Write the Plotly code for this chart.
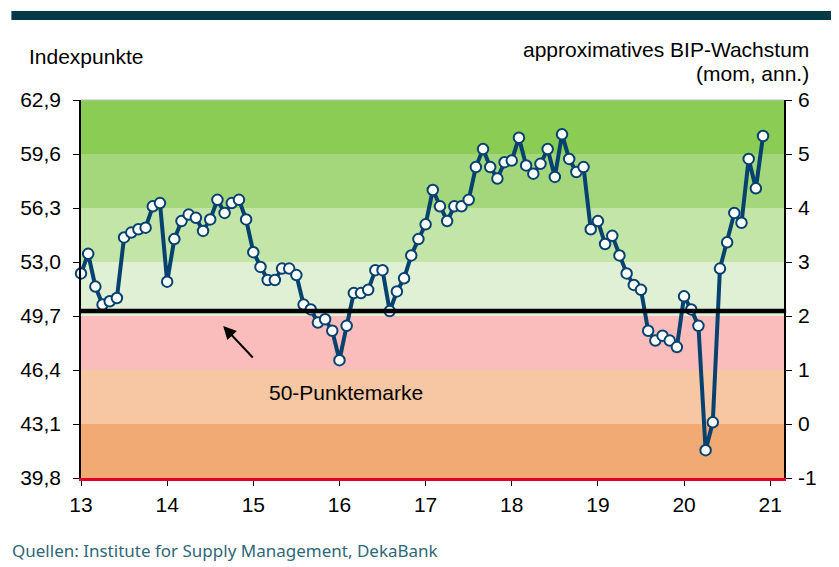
import plotly.graph_objects as go

# ISM values, monthly Jan 2013 .. Dec 2020
ism_2013 = [52.3, 53.5, 51.5, 50.4, 50.6, 50.8, 54.5, 54.8, 55.0, 55.1, 56.4, 56.6]
ism_2014 = [51.8, 54.4, 55.5, 55.9, 55.7, 54.9, 55.6, 56.8, 56.0, 56.6, 56.8, 55.6]
ism_2015 = [53.6, 52.7, 51.9, 51.9, 52.6, 52.6, 52.2, 50.4, 50.1, 49.3, 49.5, 48.8]
ism_2016 = [47.0, 49.1, 51.1, 51.1, 51.3, 52.5, 52.5, 50.0, 51.2, 52.0, 53.4, 54.4]
ism_2017 = [55.3, 57.4, 56.4, 55.5, 56.4, 56.4, 56.8, 58.8, 59.9, 58.8, 58.1, 59.1]
ism_2018 = [59.2, 60.6, 58.9, 58.4, 59.0, 59.9, 58.2, 60.8, 59.3, 58.5, 58.8, 55.0]
ism_2019 = [55.5, 54.1, 54.6, 53.4, 52.3, 51.6, 51.3, 48.8, 48.2, 48.5, 48.2, 47.8]
ism_2020 = [50.9, 50.1, 49.1, 41.5, 43.2, 52.6, 54.2, 56.0, 55.4, 59.3, 57.5, 60.7]
ism = ism_2013 + ism_2014 + ism_2015 + ism_2016 + ism_2017 + ism_2018 + ism_2019 + ism_2020
start_year = 13
x_vals = [start_year + i / 12 for i in range(len(ism))]

left_ticks = [39.8, 43.1, 46.4, 49.7, 53.0, 56.3, 59.6, 62.9]
left_labels = ["39,8", "43,1", "46,4", "49,7", "53,0", "56,3", "59,6", "62,9"]
right_ticks = [-1, 0, 1, 2, 3, 4, 5, 6]
year_ticks = [13, 14, 15, 16, 17, 18, 19, 20, 21]
year_labels = ["13", "14", "15", "16", "17", "18", "19", "20", "21"]
band_edges = [39.8, 43.1, 46.4, 49.7, 53.0, 56.3, 59.6, 62.9]
band_colors = ["#F2AA74", "#F6C7A2", "#FBBDBB", "#E0F0D4", "#C4E5A8", "#A4D77C", "#8BCC55"]
threshold = 50

navy = "#064270"
font_main = "Liberation Sans, Arial, sans-serif"
fs = 21

fig = go.Figure()
fig.add_trace(go.Scatter(
    x=x_vals, y=ism, mode="lines+markers",
    line=dict(color=navy, width=4),
    marker=dict(size=10.5, color="white", line=dict(color=navy, width=2)),
    showlegend=False, cliponaxis=False,
))
# dummy trace for secondary axis
fig.add_trace(go.Scatter(x=[13], y=[0], yaxis="y2", mode="markers",
                         marker=dict(opacity=0), showlegend=False, hoverinfo="skip"))

shapes = []
for i, c in enumerate(band_colors):
    shapes.append(dict(type="rect", xref="paper", yref="y", x0=0, x1=1,
                       y0=band_edges[i], y1=band_edges[i + 1],
                       fillcolor=c, line=dict(width=0), layer="below"))
shapes.append(dict(type="line", xref="paper", yref="y", x0=0, x1=1.003,
                   y0=threshold, y1=threshold, line=dict(color="black", width=4.5)))
# top border line
shapes.append(dict(type="line", xref="paper", yref="paper", x0=0, x1=1, y0=1, y1=1,
                   line=dict(color="#BDBDBD", width=1)))
# title bar
shapes.append(dict(type="rect", xref="paper", yref="paper", x0=-0.099, x1=1.1,
                   y0=1.2116, y1=1.2354, fillcolor="#033A47", line=dict(width=0)))

annotations = [
    dict(text="Indexpunkte", xref="paper", yref="paper", x=-0.0764, y=1.1138,
         xanchor="left", yanchor="middle", showarrow=False,
         font=dict(family=font_main, size=fs, color="black")),
    dict(text="approximatives BIP-Wachstum", xref="paper", yref="paper", x=1.0385, y=1.1323,
         xanchor="right", yanchor="middle", showarrow=False,
         font=dict(family=font_main, size=fs, color="black")),
    dict(text="(mom, ann.)", xref="paper", yref="paper", x=1.0385, y=1.0688,
         xanchor="right", yanchor="middle", showarrow=False,
         font=dict(family=font_main, size=fs, color="black")),
    dict(text="50-Punktemarke", xref="paper", yref="paper", x=0.2645, y=0.2249,
         xanchor="left", yanchor="middle", showarrow=False,
         font=dict(family=font_main, size=fs, color="black")),
    dict(text="", xref="paper", yref="paper", x=(220 - 77) / 707, y=(478 - 326) / 378,
         ax=31, ay=33, showarrow=True, arrowhead=2, arrowsize=1.3, arrowwidth=2,
         arrowcolor="black"),
    dict(text="Quellen: Institute for Supply Management, DekaBank", xref="paper", yref="paper",
         x=-0.1004, y=-0.1905, xanchor="left", yanchor="middle", showarrow=False,
         font=dict(family="Noto Sans, sans-serif", size=17, color="#2E6878")),
]

fig.update_layout(
    width=839, height=567,
    margin=dict(l=69, r=63, t=92, b=97),
    paper_bgcolor="white", plot_bgcolor="white",
    shapes=shapes, annotations=annotations,
    xaxis=dict(range=[13, 21.16], tickmode="array", tickvals=year_ticks, ticktext=year_labels,
               showgrid=False, zeroline=False, showline=True, linecolor="#E0002A", linewidth=3,
               ticks="outside", ticklen=5, tickcolor="black", tickwidth=1,
               ticklabelstandoff=1,
               tickfont=dict(family=font_main, size=fs, color="black")),
    yaxis=dict(range=[39.8, 62.9], tickmode="array", tickvals=left_ticks, ticktext=left_labels,
               showgrid=False, zeroline=False, showline=True, linecolor="black", linewidth=1.5,
               ticks="outside", ticklen=6, tickcolor="black",
               ticklabelstandoff=8,
               tickfont=dict(family=font_main, size=fs, color="black")),
    yaxis2=dict(range=[-1, 6], overlaying="y", side="right", tickmode="array",
                tickvals=right_ticks, ticktext=[str(t) for t in right_ticks],
                showgrid=False, zeroline=False, showline=True, linecolor="black", linewidth=1.5,
                ticks="outside", ticklen=6, tickcolor="black",
                ticklabelstandoff=2,
                tickfont=dict(family=font_main, size=fs, color="black")),
)

fig.write_html("out.html")
